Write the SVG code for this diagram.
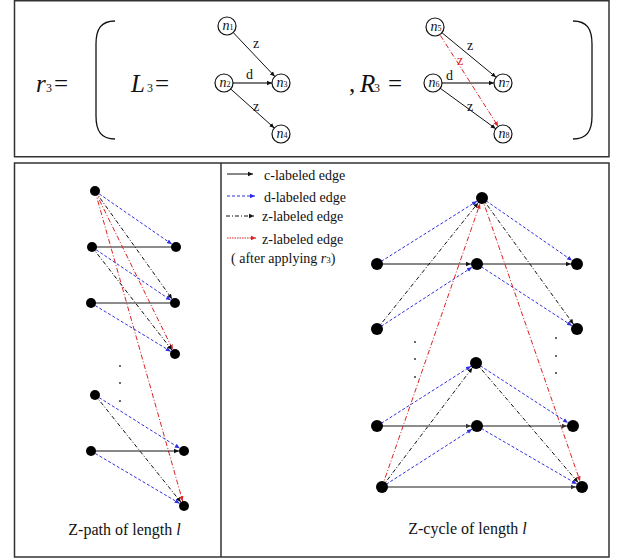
<svg xmlns="http://www.w3.org/2000/svg" width="617" height="558" viewBox="0 0 617 558">
<style>
.frame{fill:none;stroke:#333;stroke-width:1.5}
.br{fill:none;stroke:#111;stroke-width:1.3}
.t{font-family:"Liberation Serif","Times New Roman",serif;fill:#111}
.big{font-size:25px}
.sub{font-size:12px}
.nl{font-size:14px}
.ns{font-size:8px}
.el{font-size:14px}
.lg{font-size:14px}
.cap{font-size:16px}
.it{font-style:italic}
.wn{fill:#fff;stroke:#111;stroke-width:1.2}
.bn{fill:#000}
.k{fill:none;stroke:#111;stroke-width:1}
.g{fill:none;stroke:#666;stroke-width:1.4}
.gd{fill:none;stroke:#7a7a7a;stroke-width:2}
.b{fill:none;stroke:#2f2fe0;stroke-width:1;stroke-dasharray:3,2}
.z{fill:none;stroke:#111;stroke-width:1;stroke-dasharray:4,2,1,2}
.r{fill:none;stroke:#dd2222;stroke-width:1;stroke-dasharray:5,2,1,2}
.rl{fill:none;stroke:#dd2222;stroke-width:1;stroke-dasharray:1.5,1}
.dot{fill:#222}
</style>
<defs>
<marker id="k0" markerUnits="userSpaceOnUse" markerWidth="6" markerHeight="6" viewBox="0 -3 6 6" refX="5" refY="0" orient="auto"><path d="M0,-2.2L5,0L0,2.2z" fill="#111"/></marker>
<marker id="b0" markerUnits="userSpaceOnUse" markerWidth="6" markerHeight="6" viewBox="0 -3 6 6" refX="5" refY="0" orient="auto"><path d="M0,-2.2L5,0L0,2.2z" fill="#2f2fe0"/></marker>
<marker id="r0" markerUnits="userSpaceOnUse" markerWidth="6" markerHeight="6" viewBox="0 -3 6 6" refX="5" refY="0" orient="auto"><path d="M0,-2.2L5,0L0,2.2z" fill="#dd2222"/></marker>
<marker id="k5" markerUnits="userSpaceOnUse" markerWidth="12" markerHeight="6" viewBox="0 -3 12 6" refX="10" refY="0" orient="auto"><path d="M0,-2.2L5,0L0,2.2z" fill="#111"/></marker>
<marker id="b5" markerUnits="userSpaceOnUse" markerWidth="12" markerHeight="6" viewBox="0 -3 12 6" refX="10" refY="0" orient="auto"><path d="M0,-2.2L5,0L0,2.2z" fill="#2f2fe0"/></marker>
<marker id="r5" markerUnits="userSpaceOnUse" markerWidth="12" markerHeight="6" viewBox="0 -3 12 6" refX="10" refY="0" orient="auto"><path d="M0,-2.2L5,0L0,2.2z" fill="#dd2222"/></marker>
<marker id="k6" markerUnits="userSpaceOnUse" markerWidth="12" markerHeight="6" viewBox="0 -3 12 6" refX="11" refY="0" orient="auto"><path d="M0,-2.2L5,0L0,2.2z" fill="#111"/></marker>
<marker id="b6" markerUnits="userSpaceOnUse" markerWidth="12" markerHeight="6" viewBox="0 -3 12 6" refX="11" refY="0" orient="auto"><path d="M0,-2.2L5,0L0,2.2z" fill="#2f2fe0"/></marker>
<marker id="r6" markerUnits="userSpaceOnUse" markerWidth="12" markerHeight="6" viewBox="0 -3 12 6" refX="11" refY="0" orient="auto"><path d="M0,-2.2L5,0L0,2.2z" fill="#dd2222"/></marker>
<marker id="g6" markerUnits="userSpaceOnUse" markerWidth="12" markerHeight="6" viewBox="0 -3 12 6" refX="11" refY="0" orient="auto"><path d="M0,-2.2L5,0L0,2.2z" fill="#333"/></marker>
<marker id="k9" markerUnits="userSpaceOnUse" markerWidth="15" markerHeight="6" viewBox="0 -3 15 6" refX="14" refY="0" orient="auto"><path d="M0,-2.2L5,0L0,2.2z" fill="#111"/></marker>
<marker id="r9" markerUnits="userSpaceOnUse" markerWidth="15" markerHeight="6" viewBox="0 -3 15 6" refX="14" refY="0" orient="auto"><path d="M0,-2.2L5,0L0,2.2z" fill="#dd2222"/></marker>
</defs>
<rect width="617" height="558" fill="#fff"/>
<g id="frames">
<rect class="frame" x="14.5" y="0.75" width="594.5" height="156"/>
<rect class="frame" x="14.5" y="163" width="594.5" height="394"/>
<line class="frame" x1="221" y1="163" x2="221" y2="557"/>
</g>
<g id="formula">
<text class="t big" y="92"><tspan x="36" class="it">r</tspan><tspan x="46" class="sub">3</tspan><tspan x="54">=</tspan></text>
<path class="br" d="M115,21 C101,21 96,29 96,44 L96,116 C96,131 101,139 115,139"/>
<path class="br" d="M573,21 C587,21 592,29 592,44 L592,116 C592,131 587,139 573,139"/>
<text class="t big" y="92"><tspan x="131" class="it">L</tspan><tspan x="147" class="sub">3</tspan><tspan x="155">=</tspan></text>
<text class="t big" y="92"><tspan x="349">,</tspan><tspan x="360" class="it">R</tspan><tspan x="374" class="sub">3</tspan><tspan x="388">=</tspan></text>
</g>
<g id="connectors">
<line class="k" x1="227" y1="26" x2="281" y2="83" marker-end="url(#k9)"/>
<line class="gd" x1="224" y1="83" x2="281" y2="83" marker-end="url(#k9)"/>
<line class="k" x1="224" y1="83" x2="281" y2="134" marker-end="url(#k9)"/>
<line class="k" x1="435" y1="27" x2="503" y2="83" marker-end="url(#k9)"/>
<line class="gd" x1="433" y1="83" x2="503" y2="83" marker-end="url(#k9)"/>
<line class="k" x1="433" y1="83" x2="503" y2="134" marker-end="url(#k9)"/>
<line class="r" x1="435" y1="27" x2="503" y2="134" marker-end="url(#r9)"/>
<line class="g" x1="92" y1="247" x2="176" y2="247"/>
<line class="g" x1="91" y1="303" x2="175" y2="303"/>
<line class="b" x1="95" y1="191" x2="176" y2="247" marker-end="url(#b5)"/>
<line class="z" x1="95" y1="191" x2="175" y2="303" marker-end="url(#k5)"/>
<line class="r" x1="95" y1="191" x2="175" y2="354" marker-end="url(#r5)"/>
<line class="r" x1="95" y1="191" x2="184" y2="506" marker-end="url(#r5)"/>
<line class="b" x1="92" y1="247" x2="175" y2="303" marker-end="url(#b5)"/>
<line class="z" x1="92" y1="247" x2="175" y2="354" marker-end="url(#k5)"/>
<line class="b" x1="91" y1="303" x2="175" y2="354" marker-end="url(#b5)"/>
<line class="b" x1="95" y1="395" x2="184" y2="451" marker-end="url(#b5)"/>
<line class="z" x1="95" y1="395" x2="184" y2="506" marker-end="url(#k5)"/>
<line class="k" x1="91" y1="451" x2="184" y2="451" marker-end="url(#k5)"/>
<line class="b" x1="91" y1="451" x2="184" y2="506" marker-end="url(#b5)"/>
<line class="b" x1="377" y1="264" x2="482" y2="198" marker-end="url(#b6)"/>
<line class="z" x1="377" y1="329" x2="482" y2="198" marker-end="url(#k6)"/>
<line class="b" x1="377" y1="329" x2="477" y2="264" marker-end="url(#b6)"/>
<line class="k" x1="377" y1="264" x2="477" y2="264" marker-end="url(#k6)"/>
<line class="k" x1="477" y1="264" x2="577" y2="264" marker-end="url(#k6)"/>
<line class="b" x1="482" y1="198" x2="577" y2="264" marker-end="url(#b6)"/>
<line class="z" x1="482" y1="198" x2="577" y2="329" marker-end="url(#k6)"/>
<line class="b" x1="477" y1="264" x2="577" y2="329" marker-end="url(#b6)"/>
<line class="r" x1="382" y1="487" x2="482" y2="198" marker-end="url(#r6)"/>
<line class="r" x1="482" y1="198" x2="582" y2="487" marker-end="url(#r6)"/>
<line class="b" x1="377" y1="426" x2="476" y2="363" marker-end="url(#b6)"/>
<line class="z" x1="382" y1="487" x2="476" y2="363" marker-end="url(#k6)"/>
<line class="b" x1="382" y1="487" x2="477" y2="426" marker-end="url(#b6)"/>
<line class="g" x1="377" y1="426" x2="477" y2="426" marker-end="url(#g6)"/>
<line class="g" x1="477" y1="426" x2="573" y2="426" marker-end="url(#g6)"/>
<line class="b" x1="476" y1="363" x2="573" y2="426" marker-end="url(#b6)"/>
<line class="b" x1="477" y1="426" x2="582" y2="487" marker-end="url(#b6)"/>
<line class="z" x1="476" y1="363" x2="582" y2="487" marker-end="url(#k6)"/>
<line class="g" x1="382" y1="487" x2="582" y2="487" marker-end="url(#g6)"/>
</g>
<g id="edge-labels" class="t el">
<text x="253" y="48">z</text>
<text x="246" y="79">d</text>
<text x="253" y="111">z</text>
<text x="467" y="50">z</text>
<text x="446" y="80">d</text>
<text x="467" y="111">z</text>
<text x="457" y="65" fill="#dd2222">z</text>
</g>
<g id="n1"><circle class="wn" cx="227" cy="26" r="9"/><text class="t nl" x="228" y="30" text-anchor="middle"><tspan class="it">n</tspan><tspan class="ns">1</tspan></text></g>
<g id="n2"><circle class="wn" cx="224" cy="83" r="9"/><text class="t nl" x="225" y="87" text-anchor="middle"><tspan class="it">n</tspan><tspan class="ns">2</tspan></text></g>
<g id="n3"><circle class="wn" cx="281" cy="83" r="9"/><text class="t nl" x="282" y="87" text-anchor="middle"><tspan class="it">n</tspan><tspan class="ns">3</tspan></text></g>
<g id="n4"><circle class="wn" cx="281" cy="134" r="9"/><text class="t nl" x="282" y="138" text-anchor="middle"><tspan class="it">n</tspan><tspan class="ns">4</tspan></text></g>
<g id="n5"><circle class="wn" cx="435" cy="27" r="9"/><text class="t nl" x="436" y="31" text-anchor="middle"><tspan class="it">n</tspan><tspan class="ns">5</tspan></text></g>
<g id="n6"><circle class="wn" cx="433" cy="83" r="9"/><text class="t nl" x="434" y="87" text-anchor="middle"><tspan class="it">n</tspan><tspan class="ns">6</tspan></text></g>
<g id="n7"><circle class="wn" cx="503" cy="83" r="9"/><text class="t nl" x="504" y="87" text-anchor="middle"><tspan class="it">n</tspan><tspan class="ns">7</tspan></text></g>
<g id="n8"><circle class="wn" cx="503" cy="134" r="9"/><text class="t nl" x="504" y="138" text-anchor="middle"><tspan class="it">n</tspan><tspan class="ns">8</tspan></text></g>
<g id="zp-a0"><circle class="bn" cx="95" cy="191" r="5"/></g>
<g id="zp-b1l"><circle class="bn" cx="92" cy="247" r="5"/></g>
<g id="zp-b1r"><circle class="bn" cx="176" cy="247" r="5"/></g>
<g id="zp-b2l"><circle class="bn" cx="91" cy="303" r="5"/></g>
<g id="zp-b2r"><circle class="bn" cx="175" cy="303" r="5"/></g>
<g id="zp-c"><circle class="bn" cx="175" cy="354" r="5"/></g>
<g id="zp-d"><circle class="bn" cx="95" cy="395" r="5"/></g>
<g id="zp-el"><circle class="bn" cx="91" cy="451" r="5"/></g>
<g id="zp-er"><circle class="bn" cx="184" cy="451" r="5"/></g>
<g id="zp-f"><circle class="bn" cx="184" cy="506" r="5"/></g>
<g id="zp-dots"><circle class="dot" cx="120" cy="366" r="0.9"/><circle class="dot" cx="120" cy="383" r="0.9"/><circle class="dot" cx="120" cy="401" r="0.9"/></g>
<text class="t cap" x="124.5" y="535" text-anchor="middle">Z-path of length <tspan class="it">l</tspan></text>
<g id="zc-t"><circle class="bn" cx="482" cy="198" r="6"/></g>
<g id="zc-l1"><circle class="bn" cx="377" cy="264" r="6"/></g>
<g id="zc-m1"><circle class="bn" cx="477" cy="264" r="6"/></g>
<g id="zc-r1"><circle class="bn" cx="577" cy="264" r="6"/></g>
<g id="zc-l2"><circle class="bn" cx="377" cy="329" r="6"/></g>
<g id="zc-r2"><circle class="bn" cx="577" cy="329" r="6"/></g>
<g id="zc-m3"><circle class="bn" cx="476" cy="363" r="6"/></g>
<g id="zc-l4"><circle class="bn" cx="377" cy="426" r="6"/></g>
<g id="zc-m4"><circle class="bn" cx="477" cy="426" r="6"/></g>
<g id="zc-r4"><circle class="bn" cx="573" cy="426" r="6"/></g>
<g id="zc-bl"><circle class="bn" cx="382" cy="487" r="6"/></g>
<g id="zc-br"><circle class="bn" cx="582" cy="487" r="6"/></g>
<g id="zc-dots"><circle class="dot" cx="415" cy="342" r="0.9"/><circle class="dot" cx="415" cy="359" r="0.9"/><circle class="dot" cx="415" cy="377" r="0.9"/><circle class="dot" cx="556" cy="338" r="0.9"/><circle class="dot" cx="556" cy="356" r="0.9"/><circle class="dot" cx="556" cy="373" r="0.9"/></g>
<text class="t cap" x="467.5" y="534" text-anchor="middle">Z-cycle of length <tspan class="it">l</tspan></text>
<g id="legend">
<line class="k" x1="227" y1="174" x2="253" y2="174" marker-end="url(#k0)"/>
<text class="t lg" x="264" y="180">c-labeled edge</text>
<line class="b" x1="227" y1="196" x2="255" y2="196" marker-end="url(#b0)"/>
<text class="t lg" x="264" y="202">d-labeled edge</text>
<line class="z" x1="226" y1="216" x2="254" y2="216" marker-end="url(#k0)"/>
<text class="t lg" x="262" y="221">z-labeled edge</text>
<line class="rl" x1="227" y1="238" x2="256" y2="238" marker-end="url(#r0)"/>
<text class="t lg" x="262" y="244">z-labeled edge</text>
<text class="t lg" x="231" y="263">( after applying <tspan class="it">r</tspan><tspan font-size="9">3</tspan>)</text>
</g>
</svg>
